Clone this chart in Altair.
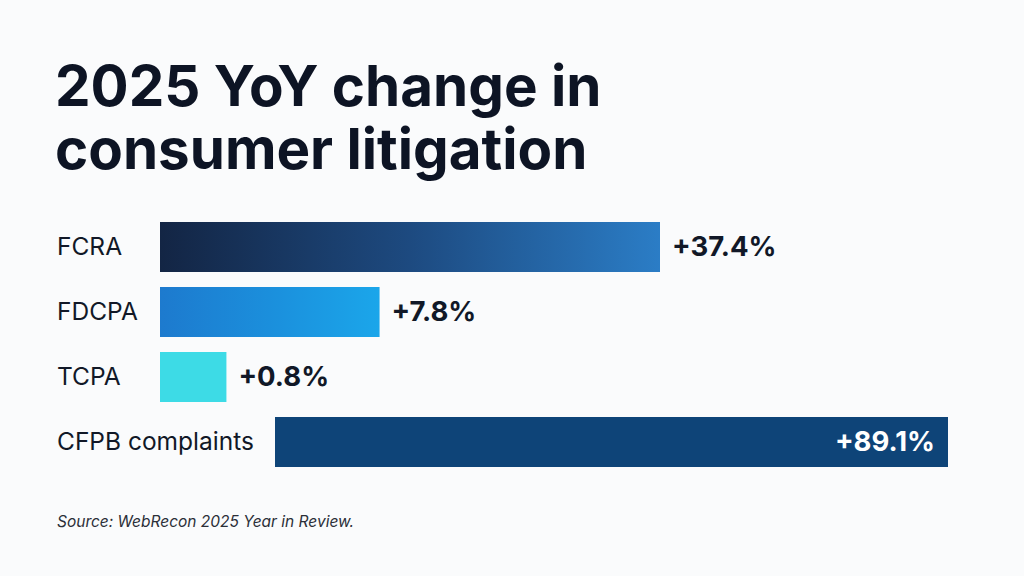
import altair as alt
import pandas as pd

categories = ["FCRA", "FDCPA", "TCPA", "CFPB complaints"]
values = [37.4, 7.8, 0.8, 89.1]
value_labels = ["+37.4%", "+7.8%", "+0.8%", "+89.1%"]
title_lines = ["2025 YoY change in", "consumer litigation"]
source_text = "Source: WebRecon 2025 Year in Review."

gradients = {
    "FCRA": ["#132544", "#1d4a80", "#2b7dc6"],
    "FDCPA": ["#1d7ace", "#1b8fdc", "#1ba6ea"],
    "TCPA": ["#3ddbe6", "#3ddbe6"],
    "CFPB complaints": ["#0e4478", "#0e4478"],
}

df = pd.DataFrame({"cat": categories, "val": values, "lab": value_labels})

FONT = "Inter"
TEXT_DARK = "#111827"

y_enc = alt.Y(
    "cat:N",
    scale=alt.Scale(domain=categories, range=[214.5, 474.5],
                    paddingInner=15 / 65, paddingOuter=7.5 / 65),
    axis=None,
)

x_main = alt.Scale(type="pow", exponent=0.525, domain=[0, 37.4],
                   range=[160, 660], nice=False, zero=True)
x_cfpb = alt.Scale(type="linear", domain=[0, 89.1],
                   range=[275, 948], nice=False, zero=True)


def grad(cols):
    n = len(cols)
    return alt.LinearGradient(
        gradient="linear",
        stops=[alt.GradientStop(offset=i / (n - 1), color=c) for i, c in enumerate(cols)],
        x1=0, x2=1, y1=0, y2=0,
    )


base = alt.Chart(df)
layers = []

for cat in categories:
    scale = x_cfpb if cat == "CFPB complaints" else x_main
    layers.append(
        base.transform_filter(alt.datum.cat == cat)
        .mark_bar(color=grad(gradients[cat]))
        .encode(x=alt.X("val:Q", scale=scale, axis=None), x2=alt.datum(0), y=y_enc)
    )

# category labels
layers.append(
    base.mark_text(align="left", baseline="middle", font=FONT, fontSize=24.5,
                   color=TEXT_DARK, dy=1)
    .encode(x=alt.value(57), y=y_enc, text="cat:N")
)

# value labels outside bars
layers.append(
    base.transform_filter(alt.datum.cat != "CFPB complaints")
    .mark_text(align="left", baseline="middle", font=FONT, fontSize=27.5,
               fontWeight="bold", color=TEXT_DARK, dx=12, dy=1)
    .encode(x=alt.X("val:Q", scale=x_main, axis=None), y=y_enc, text="lab:N")
)

# value label inside CFPB bar
layers.append(
    base.transform_filter(alt.datum.cat == "CFPB complaints")
    .mark_text(align="right", baseline="middle", font=FONT, fontSize=27.5,
               fontWeight="bold", color="white", dx=-13, dy=1)
    .encode(x=alt.X("val:Q", scale=x_cfpb, axis=None), y=y_enc, text="lab:N")
)

# title lines
for line, yy in zip(title_lines, [106, 169]):
    layers.append(
        alt.Chart(pd.DataFrame({"t": [line]}))
        .mark_text(align="left", baseline="alphabetic", font=FONT, fontSize=56.5,
                   fontWeight="bold", color="#0d1424")
        .encode(x=alt.value(55), y=alt.value(yy), text="t:N")
    )

# source
layers.append(
    alt.Chart(pd.DataFrame({"t": [source_text]}))
    .mark_text(align="left", baseline="alphabetic", font=FONT, fontSize=15.5,
               fontStyle="italic", color="#2b2f38")
    .encode(x=alt.value(57), y=alt.value(527), text="t:N")
)

chart = (
    alt.layer(*layers)
    .resolve_scale(x="independent")
    .properties(width=1024, height=576, autosize=alt.AutoSizeParams(type="none"),
                padding=0, background="#fafbfc")
    .configure_view(stroke=None)
)

chart.save("out.html", embed_options={"renderer": "svg", "actions": False})
